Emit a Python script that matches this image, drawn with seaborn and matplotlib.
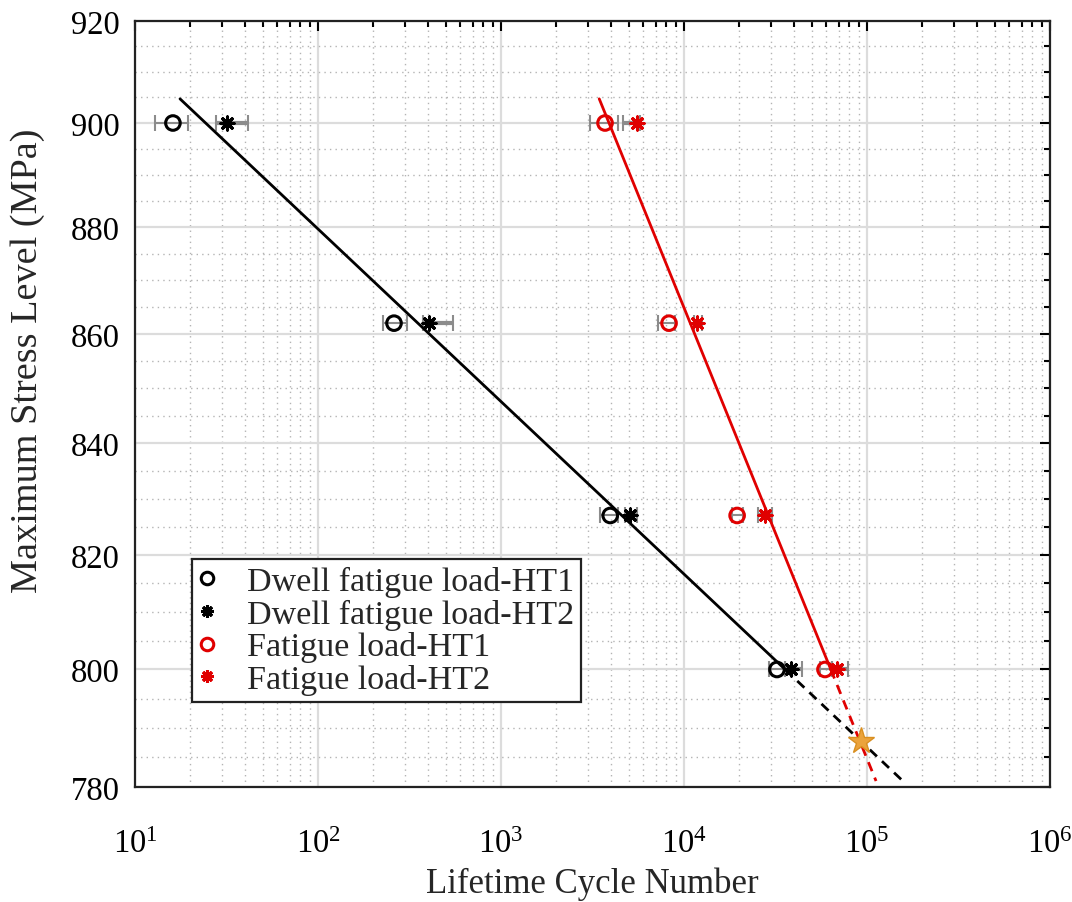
import numpy as np
import pandas as pd
import matplotlib
matplotlib.use("Agg")
import matplotlib.pyplot as plt
import seaborn as sns
from matplotlib.lines import Line2D
from matplotlib.ticker import MultipleLocator, LogLocator, NullFormatter, FuncFormatter

# stress levels (MPa)
stress = [900, 862, 827, 800]

# lifetimes (cycles) with lower / upper bounds of the scatter bars
dwell_ht1 = [16.1, 260, 3950, 32200]
dwell_ht1_lo = [12.9, 226, 3480, 29100]
dwell_ht1_hi = [19.5, 306, 4360, 35600]

dwell_ht2 = [31.8, 404, 5070, 38500]
dwell_ht2_lo = [27.7, 375, 4760, 35600]
dwell_ht2_hi = [41.4, 547, 5540, 44200]

fatigue_ht1 = [3700, 8280, 19500, 58900]
fatigue_ht1_lo = [3060, 7210, 18300, 55300]
fatigue_ht1_hi = [4350, 8930, 21000, 64400]

fatigue_ht2 = [5530, 11800, 27700, 68600]
fatigue_ht2_lo = [4650, 11350, 25400, 64400]
fatigue_ht2_hi = [5750, 12500, 30300, 78700]

# fitted S-N lines: solid part, then dashed extrapolation
fit_stress_solid = [904.7, 800]
fit_stress_dash = [800, 781.0]
dwell_fit_solid = [17.6, 35700]
dwell_fit_dash = [35700, 157000]
fatigue_fit_solid = [3440, 63400]
fatigue_fit_dash = [63400, 112000]

# intersection point
cross_N = [92700]
cross_S = [787.7]

sns.set_theme(style="white")
plt.rcParams["font.family"] = ["Liberation Serif", "DejaVu Serif"]
plt.rcParams["mathtext.fontset"] = "custom"
plt.rcParams["mathtext.rm"] = "Liberation Serif"
plt.rcParams["mathtext.it"] = "Liberation Serif:italic"

fig = plt.figure(figsize=(10.72, 9.03), dpi=100)
ax = fig.add_axes([0.126, 0.1274, 0.8535, 0.8482])

series = [
    ("Dwell fatigue load-HT1", dwell_ht1, dwell_ht1_lo, dwell_ht1_hi, "black", "o", 1.5),
    ("Dwell fatigue load-HT2", dwell_ht2, dwell_ht2_lo, dwell_ht2_hi, "black", "*", 3.0),
    ("Fatigue load-HT1", fatigue_ht1, fatigue_ht1_lo, fatigue_ht1_hi, "#e00000", "o", 1.5),
    ("Fatigue load-HT2", fatigue_ht2, fatigue_ht2_lo, fatigue_ht2_hi, "#e00000", "*", 3.0),
]

asterisk = (8, 2, 0)

# scatter bars
for label, n, lo, hi, color, mk, elw in series:
    n = np.array(n)
    xerr = [n - np.array(lo), np.array(hi) - n]
    ax.errorbar(n, stress, xerr=xerr, fmt="none", ecolor="#8c8c8c",
                elinewidth=elw, capsize=6, capthick=1.5, zorder=3)

# data points
for label, n, lo, hi, color, mk, elw in series:
    df = pd.DataFrame({"N": n, "S": stress})
    if mk == "o":
        sns.scatterplot(data=df, x="N", y="S", ax=ax, marker="o", s=110,
                        facecolors="none", edgecolor=color, linewidth=2.2, zorder=4)
    else:
        sns.scatterplot(data=df, x="N", y="S", ax=ax, marker=asterisk, s=90,
                        color=color, linewidth=2.2, zorder=4)

# fit lines
fits = pd.DataFrame({
    "N": dwell_fit_solid + dwell_fit_dash + fatigue_fit_solid + fatigue_fit_dash,
    "S": fit_stress_solid + fit_stress_dash + fit_stress_solid + fit_stress_dash,
    "part": ["ds"] * 2 + ["dd"] * 2 + ["fs"] * 2 + ["fd"] * 2,
})
styles = {"ds": ("black", "-"), "dd": ("black", (0, (3.5, 2.5))),
          "fs": ("#e00000", "-"), "fd": ("#e00000", (0, (3.5, 2.5)))}
for part, (color, ls) in styles.items():
    sub = fits[fits["part"] == part]
    sns.lineplot(data=sub, x="N", y="S", ax=ax, color=color, linestyle=ls,
                 linewidth=2.0, sort=False, zorder=5)

ax.plot(cross_N, cross_S, marker="*", markersize=20, color="#eba33c",
        markeredgecolor="#d98f20", linestyle="none", zorder=6)

ax.set_xscale("log")
ax.set_yscale("log")
ax.set_xlim(10, 1e6)
ax.set_ylim(780, 920)
ax.yaxis.set_major_locator(MultipleLocator(20))
ax.yaxis.set_minor_locator(MultipleLocator(5))
ax.yaxis.set_major_formatter(FuncFormatter(lambda v, p: f"{v:.0f}"))
ax.yaxis.set_minor_formatter(NullFormatter())
ax.xaxis.set_major_locator(LogLocator(base=10, numticks=10))
ax.xaxis.set_minor_locator(LogLocator(base=10, subs=np.arange(2, 10), numticks=20))
ax.xaxis.set_minor_formatter(NullFormatter())

ax.grid(which="major", color="#dcdcdc", linewidth=1.6, linestyle="-")
ax.grid(which="minor", color="#b4b4b4", linewidth=1.0, linestyle=(0, (1, 3)))
ax.set_axisbelow(True)

ax.tick_params(which="both", direction="in", top=True, right=True, colors="black",
               labelsize=23.5, width=1.5)
ax.tick_params(which="major", length=7)
ax.tick_params(which="minor", length=4)
ax.tick_params(axis="x", which="major", pad=30)
ax.tick_params(axis="y", which="major", pad=11)
for sp in ax.spines.values():
    sp.set_color("#222222")
    sp.set_linewidth(1.6)

ax.set_xlabel("Lifetime Cycle Number", fontsize=25, labelpad=5)
ax.set_ylabel("Maximum Stress Level (MPa)", fontsize=27.5)
ax.yaxis.set_label_coords(-0.098, 0.558)

handles = [
    Line2D([], [], marker="o", color="black", markerfacecolor="none",
           markersize=9, markeredgewidth=2.2, linestyle="none"),
    Line2D([], [], marker=asterisk, color="black", markersize=9,
           markeredgewidth=2.2, linestyle="none"),
    Line2D([], [], marker="o", color="#e00000", markerfacecolor="none",
           markersize=9, markeredgewidth=2.2, linestyle="none"),
    Line2D([], [], marker=asterisk, color="#e00000", markersize=9,
           markeredgewidth=2.2, linestyle="none"),
]
labels = [s[0] for s in series]
leg = ax.legend(handles, labels, loc="lower left", bbox_to_anchor=(0.062, 0.111),
                fontsize=24.5, frameon=True, fancybox=False, framealpha=1,
                edgecolor="#222222", handlelength=0.47, handletextpad=0.94,
                labelspacing=0.05, borderpad=0.2, borderaxespad=0)
leg.get_frame().set_linewidth(1.6)
leg.set_zorder(10)

fig.savefig("out.png", dpi=100)
